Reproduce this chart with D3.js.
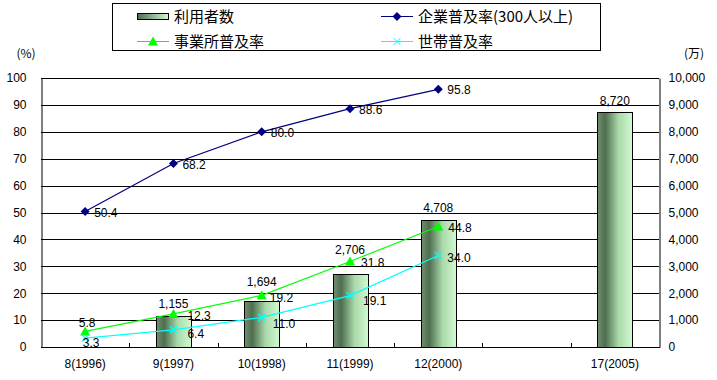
<!DOCTYPE html>
<html><head><meta charset="utf-8">
<script src="https://cdn.jsdelivr.net/npm/d3@7"></script>
<style>body{margin:0;background:#fff}svg{display:block}</style>
</head><body><svg id="c" width="717" height="380"></svg>
<script>
// ---- data ----
const categories = ["8(1996)", "9(1997)", "10(1998)", "11(1999)", "12(2000)", "", "17(2005)"];
const users = [null, 1155, 1694, 2706, 4708, null, 8720];            // 利用者数 (万)
const corpRate = [50.4, 68.2, 80.0, 88.6, 95.8, null, null];          // 企業普及率(300人以上)
const officeRate = [5.8, 12.3, 19.2, 31.8, 44.8, null, null];         // 事業所普及率
const householdRate = [3.3, 6.4, 11.0, 19.1, 34.0, null, null];       // 世帯普及率
const leftTicks = [0, 10, 20, 30, 40, 50, 60, 70, 80, 90, 100];
const rightTicks = [0, 1000, 2000, 3000, 4000, 5000, 6000, 7000, 8000, 9000, 10000];
const legendNames = ["利用者数", "企業普及率(300人以上)", "事業所普及率", "世帯普及率"];

// label placement tweaks (style, not data)
const userLabelDy = [0, -12, -20, -24, -13, 0, -12];
const officeLabelPos = [[2, -9, "middle"], [14, 2, "start"], [8, 2, "start"], [11, 1, "start"], [10, 1, "start"]];
const householdLabelPos = [[6, 5, "middle"], [14, 4, "start"], [11, 6, "start"], [13, 5, "start"], [9, 2, "start"]];

const svg = d3.select("#c");
const L = 41, R = 659, T = 78, B = 347;
const numFont = "'Liberation Sans', Arial, sans-serif";
const jpFont = "'Noto Sans CJK JP', sans-serif";

const x = d3.scaleBand().domain(d3.range(categories.length)).range([L, R]).paddingInner(0).paddingOuter(0);
const yL = d3.scaleLinear().domain([0, 100]).range([B, T]);
const yR = d3.scaleLinear().domain([0, 10000]).range([B, T]);
const cx = i => x(i) + x.bandwidth() / 2;

// gradient
const defs = svg.append("defs");
const g1 = defs.append("linearGradient").attr("id", "barGrad").attr("x1", "0").attr("x2", "1").attr("y1", "0").attr("y2", "0");
[[0, "#6f8f6f"], [0.22, "#4f6d4f"], [0.6, "#a9d9a9"], [1, "#d2f9d2"]].forEach(([o, c]) => g1.append("stop").attr("offset", o).attr("stop-color", c));
const g2 = defs.append("linearGradient").attr("id", "legGrad").attr("x1", "0").attr("x2", "1").attr("y1", "0").attr("y2", "0");
[[0, "#4f6d4f"], [1, "#d2f9d2"]].forEach(([o, c]) => g2.append("stop").attr("offset", o).attr("stop-color", c));

// gridlines
svg.append("g").selectAll("line").data(leftTicks).join("line")
  .attr("x1", L).attr("x2", R).attr("y1", d => Math.round(yL(d)) + 0.5).attr("y2", d => Math.round(yL(d)) + 0.5)
  .attr("stroke", "#000").attr("stroke-width", 1);

// bars
const bw = 35;
svg.append("g").selectAll("rect").data(users.map((v, i) => ({v, i})).filter(d => d.v != null)).join("rect")
  .attr("x", d => Math.round(cx(d.i) - bw / 2) + 0.5).attr("width", bw)
  .attr("y", d => Math.round(yR(d.v)) + 0.5).attr("height", d => B - Math.round(yR(d.v)))
  .attr("fill", "url(#barGrad)").attr("stroke", "#000").attr("stroke-width", 1);

// axes
const axL = svg.append("g").attr("transform", `translate(${L + 0.5},0)`)
  .call(d3.axisLeft(yL).tickValues(leftTicks).tickSize(0).tickPadding(15));
const axR = svg.append("g").attr("transform", `translate(${R + 0.5},0)`)
  .call(d3.axisRight(yR).tickValues(rightTicks).tickSize(0).tickPadding(9).tickFormat(d3.format(",")));
const axB = svg.append("g").attr("transform", `translate(0,${B + 0.5})`)
  .call(d3.axisBottom(x).tickFormat(i => categories[i]).tickSize(0).tickPadding(12));
[axL, axR, axB].forEach(a => {
  a.select(".domain").attr("stroke", "#000");
  a.selectAll("text").attr("font-family", numFont).attr("font-size", 12).attr("fill", "#000");
});
axB.select(".domain").remove();
svg.append("line").attr("x1", L).attr("x2", R + 1).attr("y1", B + 0.5).attr("y2", B + 0.5).attr("stroke", "#000");
// inner tick marks on category boundaries
svg.append("g").selectAll("line").data(d3.range(1, categories.length)).join("line")
  .attr("x1", i => Math.round(x(i)) + 0.5).attr("x2", i => Math.round(x(i)) + 0.5)
  .attr("y1", B).attr("y2", B - 4).attr("stroke", "#000");

// unit labels
svg.append("text").attr("x", 26).attr("y", 58).attr("text-anchor", "middle")
  .attr("font-family", jpFont).attr("font-size", 12).text("(%)");
svg.append("text").attr("x", 694).attr("y", 58).attr("text-anchor", "middle")
  .attr("font-family", jpFont).attr("font-size", 12).text("(万)");

// lines
function series(vals, color) {
  const pts = vals.map((v, i) => ({v, i})).filter(d => d.v != null);
  svg.append("path").datum(pts)
    .attr("d", d3.line().x(d => cx(d.i)).y(d => yL(d.v)))
    .attr("fill", "none").attr("stroke", color).attr("stroke-width", 1.2);
  return pts;
}
const cp = series(corpRate, "#000080");
const op = series(officeRate, "#00ff00");
const hp = series(householdRate, "#00ffff");

svg.append("g").selectAll("path").data(cp).join("path")
  .attr("transform", d => `translate(${cx(d.i)},${yL(d.v)})`)
  .attr("d", "M0,-4.5L4.5,0L0,4.5L-4.5,0Z").attr("fill", "#000080");
svg.append("g").selectAll("path").data(op).join("path")
  .attr("transform", d => `translate(${cx(d.i)},${yL(d.v)})`)
  .attr("d", "M0,-5L5,4L-5,4Z").attr("fill", "#00ff00");
svg.append("g").selectAll("path").data(hp).join("path")
  .attr("transform", d => `translate(${cx(d.i)},${yL(d.v)})`)
  .attr("d", "M-3.5,-3.5L3.5,3.5M3.5,-3.5L-3.5,3.5").attr("stroke", "#00ffff").attr("stroke-width", 1.2);

// data labels
const lab = svg.append("g").attr("font-family", numFont).attr("font-size", 12).attr("fill", "#000");
lab.selectAll(".u").data(users.map((v, i) => ({v, i})).filter(d => d.v != null)).join("text")
  .attr("x", d => cx(d.i)).attr("y", d => yR(d.v) + userLabelDy[d.i]).attr("dy", "0.35em")
  .attr("text-anchor", "middle").text(d => d3.format(",")(d.v));
lab.selectAll(".c").data(cp).join("text")
  .attr("x", d => cx(d.i) + 9).attr("y", d => yL(d.v) + 1).attr("dy", "0.35em")
  .text(d => d.v.toFixed(1));
lab.selectAll(".o").data(op).join("text")
  .attr("x", d => cx(d.i) + officeLabelPos[d.i][0]).attr("y", d => yL(d.v) + officeLabelPos[d.i][1]).attr("dy", "0.35em")
  .attr("text-anchor", d => officeLabelPos[d.i][2]).text(d => d.v.toFixed(1));
lab.selectAll(".h").data(hp).join("text")
  .attr("x", d => cx(d.i) + householdLabelPos[d.i][0]).attr("y", d => yL(d.v) + householdLabelPos[d.i][1]).attr("dy", "0.35em")
  .attr("text-anchor", d => householdLabelPos[d.i][2]).text(d => d.v.toFixed(1));

// legend
const lg = svg.append("g");
lg.append("rect").attr("x", 112.5).attr("y", 3.5).attr("width", 488).attr("height", 47)
  .attr("fill", "#fff").attr("stroke", "#000");
const lt = lg.append("g").attr("font-family", jpFont).attr("font-size", 15).attr("fill", "#000");
// entry 1: bar swatch
lg.append("rect").attr("x", 137.5).attr("y", 13.5).attr("width", 31).attr("height", 6)
  .attr("fill", "url(#legGrad)").attr("stroke", "#000");
lt.append("text").attr("x", 174).attr("y", 16.5).attr("dy", "0.35em").text(legendNames[0]);
// entry 2: corp
lg.append("line").attr("x1", 381).attr("x2", 413).attr("y1", 16.5).attr("y2", 16.5).attr("stroke", "#000080");
lg.append("path").attr("transform", "translate(397,16.5)").attr("d", "M0,-4.5L4.5,0L0,4.5L-4.5,0Z").attr("fill", "#000080");
lt.append("text").attr("x", 418).attr("y", 16.5).attr("dy", "0.35em").text(legendNames[1]);
// entry 3: office
lg.append("line").attr("x1", 137).attr("x2", 169).attr("y1", 41.5).attr("y2", 41.5).attr("stroke", "#00ff00");
lg.append("path").attr("transform", "translate(153,41.5)").attr("d", "M0,-5L5,4L-5,4Z").attr("fill", "#00ff00");
lt.append("text").attr("x", 174).attr("y", 41.5).attr("dy", "0.35em").text(legendNames[2]);
// entry 4: household
lg.append("line").attr("x1", 381).attr("x2", 413).attr("y1", 41.5).attr("y2", 41.5).attr("stroke", "#00ffff");
lg.append("path").attr("transform", "translate(397,41.5)").attr("d", "M-3.5,-3.5L3.5,3.5M3.5,-3.5L-3.5,3.5").attr("stroke", "#00ffff");
lt.append("text").attr("x", 418).attr("y", 41.5).attr("dy", "0.35em").text(legendNames[3]);
</script></body></html>
